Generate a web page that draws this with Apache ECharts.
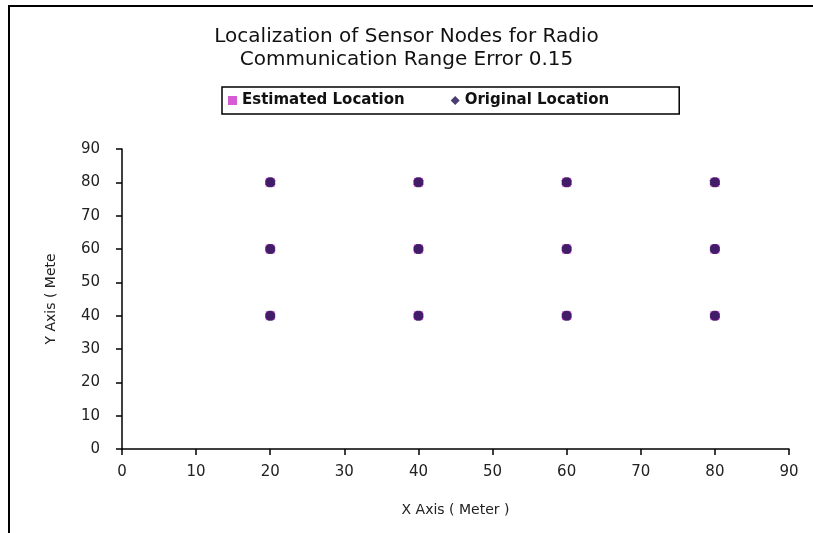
<!DOCTYPE html>
<html>
<head>
<meta charset="utf-8">
<script src="https://cdn.jsdelivr.net/npm/echarts@6/dist/echarts.min.js"></script>
<style>
  html, body { margin: 0; padding: 0; background: #fff; }
  #chart { width: 813px; height: 533px; }
</style>
</head>
<body>
<div id="chart"></div>
<script>
// node grid positions
var xTicks = [0, 10, 20, 30, 40, 50, 60, 70, 80, 90];
var estX = [20, 40, 60, 80, 20, 40, 60, 80, 20, 40, 60, 80];
var estY = [80, 80, 80, 80, 60, 60, 60, 60, 40, 40, 40, 40];
var origX = [20, 40, 60, 80, 20, 40, 60, 80, 20, 40, 60, 80];
var origY = [80, 80, 80, 80, 60, 60, 60, 60, 40, 40, 40, 40];

function pairs(xs, ys) {
    return xs.map(function (x, i) { return [x, ys[i]]; });
}

var font = '"DejaVu Sans", "Liberation Sans", sans-serif';
// chunky diamond like the old excel marker
var blob = 'path://M3,0 L7,0 L10,3 L10,7 L7,10 L3,10 L0,7 L0,3 Z';
var chart = echarts.init(document.getElementById('chart'));

var option = {
    backgroundColor: '#fff',
    animation: false,
    title: {
        text: 'Localization of Sensor Nodes for Radio\nCommunication Range Error 0.15',
        left: 'center',
        top: 20,
        textStyle: {
            fontFamily: font,
            fontSize: 20,
            fontWeight: 'normal',
            color: '#111',
            lineHeight: 23
        }
    },
    legend: {
        left: 222,
        top: 87,
        padding: [6, 70, 6, 6],
        borderColor: '#000',
        borderWidth: 1.5,
        itemWidth: 9,
        itemHeight: 9,
        itemGap: 46,
        textStyle: { fontFamily: font, fontSize: 15, color: '#111', fontWeight: 'bold' },
        data: [
            { name: 'Estimated Location', icon: 'rect' },
            { name: 'Original Location', icon: 'diamond', itemStyle: { color: '#1e0d4e' } }
        ]
    },
    graphic: [{
        type: 'rect',
        shape: { x: 9, y: 6, width: 900, height: 700 },
        style: { fill: 'none', stroke: '#000', lineWidth: 2 },
        silent: true
    }],
    grid: { left: 122, right: 24, top: 149, bottom: 84 },
    xAxis: {
        type: 'value',
        min: 0,
        max: 90,
        interval: 10,
        name: 'X Axis ( Meter )',
        nameLocation: 'middle',
        nameGap: 54,
        nameTextStyle: { fontFamily: font, fontSize: 14, color: '#222' },
        axisLine: { lineStyle: { color: '#000', width: 1.5 } },
        axisTick: { show: true, length: 6, lineStyle: { color: '#000', width: 1.5 } },
        axisLabel: { fontFamily: font, fontSize: 15, color: '#222', margin: 16 },
        splitLine: { show: false }
    },
    yAxis: {
        type: 'value',
        min: 0,
        max: 90,
        interval: 10,
        name: 'Y Axis ( Mete',
        nameLocation: 'middle',
        nameGap: 64,
        nameRotate: 90,
        nameTextStyle: { fontFamily: font, fontSize: 14, color: '#222' },
        axisLine: { show: true, lineStyle: { color: '#000', width: 1.5 } },
        axisTick: { show: true, length: 6, lineStyle: { color: '#000', width: 1.5 } },
        axisLabel: { fontFamily: font, fontSize: 15, color: '#222', margin: 22 },
        splitLine: { show: false }
    },
    series: [{
        name: 'Estimated Location',
        type: 'scatter',
        symbol: 'rect',
        symbolSize: 9,
        itemStyle: { color: '#cc33cc' },
        data: pairs(estX, estY)
    }, {
        name: 'Original Location',
        type: 'scatter',
        symbol: blob,
        symbolSize: 10,
        itemStyle: { color: '#1e0d4e' },
        data: pairs(origX, origY)
    }]
};
chart.setOption(option);
</script>
</body>
</html>
